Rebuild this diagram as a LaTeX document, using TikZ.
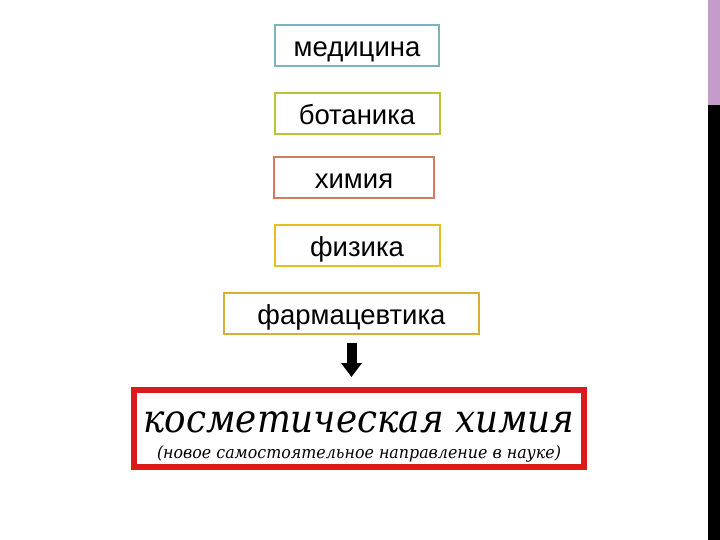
\documentclass[tikz,border=0pt]{standalone}
\usepackage{fontspec}
\usetikzlibrary{arrows.meta}
\newfontfamily\arialfont{Liberation Sans}
\newfontfamily\cosmfont{DejaVu Serif}[FakeStretch=0.917]
\newfontfamily\notefont{DejaVu Serif}[FakeStretch=0.933]

\definecolor{medcol}{HTML}{7BB4BA}
\definecolor{botcol}{HTML}{B8C43A}
\definecolor{chemcol}{HTML}{D47A5E}
\definecolor{physcol}{HTML}{E6C020}
\definecolor{pharmcol}{HTML}{D9AE35}
\definecolor{cosmred}{HTML}{DD1A1A}
\definecolor{stripcol}{HTML}{C59BCC}

\tikzstyle{subj} = [draw, line width=2pt, minimum height=41pt, inner sep=0pt,
  text height=22pt, text depth=0pt,
  font=\arialfont\fontsize{27.5}{27.5}\selectfont]
\tikzstyle{blockarw} = [-{Triangle[width=20pt,length=14pt]}, line width=10pt,
  shorten <=8pt, shorten >=10pt]

\begin{document}
\begin{tikzpicture}[x=1pt,y=-1pt]
\useasboundingbox (0,0) rectangle (720,540);
\fill [stripcol] (708,0) rectangle (720,105);
\fill [black] (708,105) rectangle (720,540);

\node [subj, draw=medcol, minimum width=164pt] (med) at (357,46) {медицина};
\node [subj, draw=botcol, minimum width=165pt] (bot) at (357,114) {ботаника};
\node [subj, draw=chemcol, minimum width=160pt] (chem) at (354,177.5) {химия};
\node [subj, draw=physcol, minimum width=165pt] (phys) at (357,245.5) {физика};
\node [subj, draw=pharmcol, minimum width=255pt] (pharm) at (351.5,313) {фармацевтика};

\node [draw=cosmred, line width=6pt, minimum width=450pt, minimum height=77pt]
  (cosm) at (358.5,428.5) {};
\node [anchor=base, font=\cosmfont\itshape\fontsize{39}{39}\selectfont]
  (title) at (359,432) {косметическая химия};
\node [anchor=base, font=\notefont\itshape\fontsize{17}{17}\selectfont]
  (note) at (359,458) {(новое самостоятельное направление в науке)};

\draw [blockarw] (pharm.south) -- (pharm.south |- cosm.north);
\end{tikzpicture}
\end{document}
